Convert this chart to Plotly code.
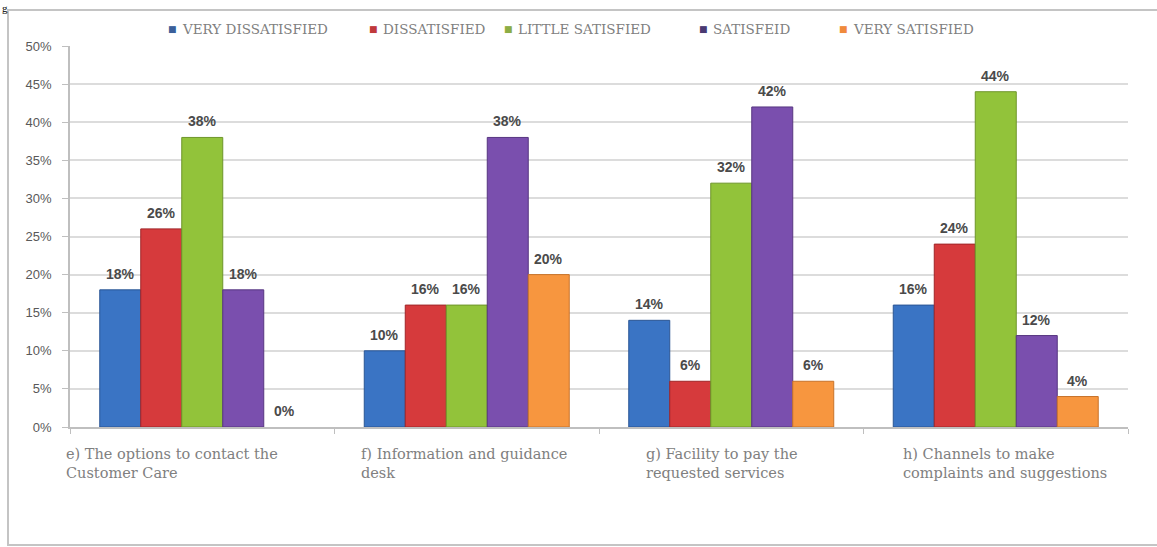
import plotly.graph_objects as go

# Survey results: satisfaction with customer-care services
categories = [
    "e) The options to contact the<br>Customer Care",
    "f) Information and guidance<br>desk",
    "g) Facility to pay the<br>requested services",
    "h) Channels to make<br>complaints and suggestions",
]
series_names = ["VERY DISSATISFIED", "DISSATISFIED", "LITTLE SATISFIED", "SATISFEID", "VERY SATISFIED"]
very_dissatisfied = [0.18, 0.10, 0.14, 0.16]
dissatisfied = [0.26, 0.16, 0.06, 0.24]
little_satisfied = [0.38, 0.16, 0.32, 0.44]
satisfied = [0.18, 0.38, 0.42, 0.12]
very_satisfied = [0.00, 0.20, 0.06, 0.04]
y_ticks = [0, 0.05, 0.10, 0.15, 0.20, 0.25, 0.30, 0.35, 0.40, 0.45, 0.50]

series_values = [very_dissatisfied, dissatisfied, little_satisfied, satisfied, very_satisfied]
fill_colors = ["#3a74c4", "#d63a3c", "#92c33a", "#7a4fae", "#f7963f"]
edge_colors = ["#2a5594", "#a02628", "#6e952a", "#573680", "#c8732a"]

W, H = 1157, 547
ML, MR, MT, MB = 70, 29, 46, 120
PW, PH = W - ML - MR, H - MT - MB
BARGAP = 0.225
n_series = len(series_values)
bar_w = (1 - BARGAP) / n_series

x_idx = list(range(len(categories)))

fig = go.Figure()
for name, vals, fc, ec in zip(series_names, series_values, fill_colors, edge_colors):
    fig.add_trace(go.Bar(
        x=x_idx, y=vals, name=name,
        # no outline on empty bars so a zero value draws nothing
        marker=dict(color=fc, line=dict(color=ec, width=[1 if v > 0 else 0 for v in vals])),
        showlegend=False, hoverinfo="skip",
    ))


def px_to_paper_x(px):
    return (px - ML) / PW


def px_to_paper_y(py):
    return (H - MB - py) / PH


annotations = []

# value labels above each bar
for j, vals in enumerate(series_values):
    for i, v in enumerate(vals):
        annotations.append(dict(
            x=i + (j - (n_series - 1) / 2) * bar_w, y=v, xref="x", yref="y",
            text=f"{round(v * 100)}%", showarrow=False,
            yanchor="bottom", yshift=6,
            font=dict(family="Liberation Sans", size=14, color="#4a4a4a", weight="bold"),
        ))

# category labels under the axis: centred blocks with left-aligned lines
label_shift = [-30, -3, -9, 9]
for i, (cat, sh) in enumerate(zip(categories, label_shift)):
    annotations.append(dict(
        x=i, y=px_to_paper_y(444), xref="x", yref="paper",
        text=cat, showarrow=False, xanchor="center", yanchor="top",
        align="left", xshift=sh,
        font=dict(family="DejaVu Serif", size=14.5, color="#808080"),
    ))

# legend row along the top
legend_px = [172, 373, 508, 703, 843]
legend_marker_colors = ["#3b5f9a", "#c0393b", "#8cad45", "#4a3a72", "#f08a3c"]
for name, px, mc in zip(series_names, legend_px, legend_marker_colors):
    annotations.append(dict(
        x=px_to_paper_x(px), y=px_to_paper_y(29), xref="paper", yref="paper",
        text="■", showarrow=False, xanchor="center", yanchor="middle",
        font=dict(family="DejaVu Sans", size=9, color=mc),
    ))
    annotations.append(dict(
        x=px_to_paper_x(px + 8), y=px_to_paper_y(29), xref="paper", yref="paper",
        text=name, showarrow=False, xanchor="left", yanchor="middle",
        font=dict(family="DejaVu Serif", size=13.5, color="#808080"),
    ))

# tail of the caption line above the chart frame
annotations.append(dict(
    x=px_to_paper_x(0), y=px_to_paper_y(0), xref="paper", yref="paper",
    text="g", showarrow=False, xanchor="left", yanchor="top",
    font=dict(family="Liberation Serif", size=11, color="#000000"),
))

shapes = [dict(
    type="rect", xref="paper", yref="paper",
    x0=px_to_paper_x(8), x1=px_to_paper_x(1162),
    y0=px_to_paper_y(545), y1=px_to_paper_y(10),
    line=dict(color="#c4c4c4", width=2), fillcolor="rgba(0,0,0,0)", layer="below",
)]

fig.update_layout(
    width=W, height=H,
    margin=dict(l=ML, r=MR, t=MT, b=MB),
    paper_bgcolor="white", plot_bgcolor="white",
    barmode="group", bargap=BARGAP, bargroupgap=0,
    annotations=annotations, shapes=shapes,
    showlegend=False,
)
# ticks sit on the category boundaries
boundaries = [i - 0.5 for i in range(len(categories) + 1)]
fig.update_xaxes(
    range=[-0.5, len(categories) - 0.5],
    tickmode="array", tickvals=boundaries, ticktext=[""] * len(boundaries),
    ticks="outside", ticklen=5, tickcolor="#bfbfbf",
    showline=True, linecolor="#bfbfbf", linewidth=1.5,
    showgrid=False, zeroline=False,
)
fig.update_yaxes(
    range=[0, 0.5], tickvals=y_ticks, tickformat=".0%",
    ticks="outside", ticklen=6, tickcolor="#bfbfbf",
    showline=True, linecolor="#bfbfbf", linewidth=1.5,
    showgrid=True, gridcolor="#dcdcdc", gridwidth=1.5, zeroline=False,
    tickfont=dict(family="Liberation Sans", size=13, color="#595959"),
    ticklabelstandoff=8,
)

fig.write_html("out.html")
